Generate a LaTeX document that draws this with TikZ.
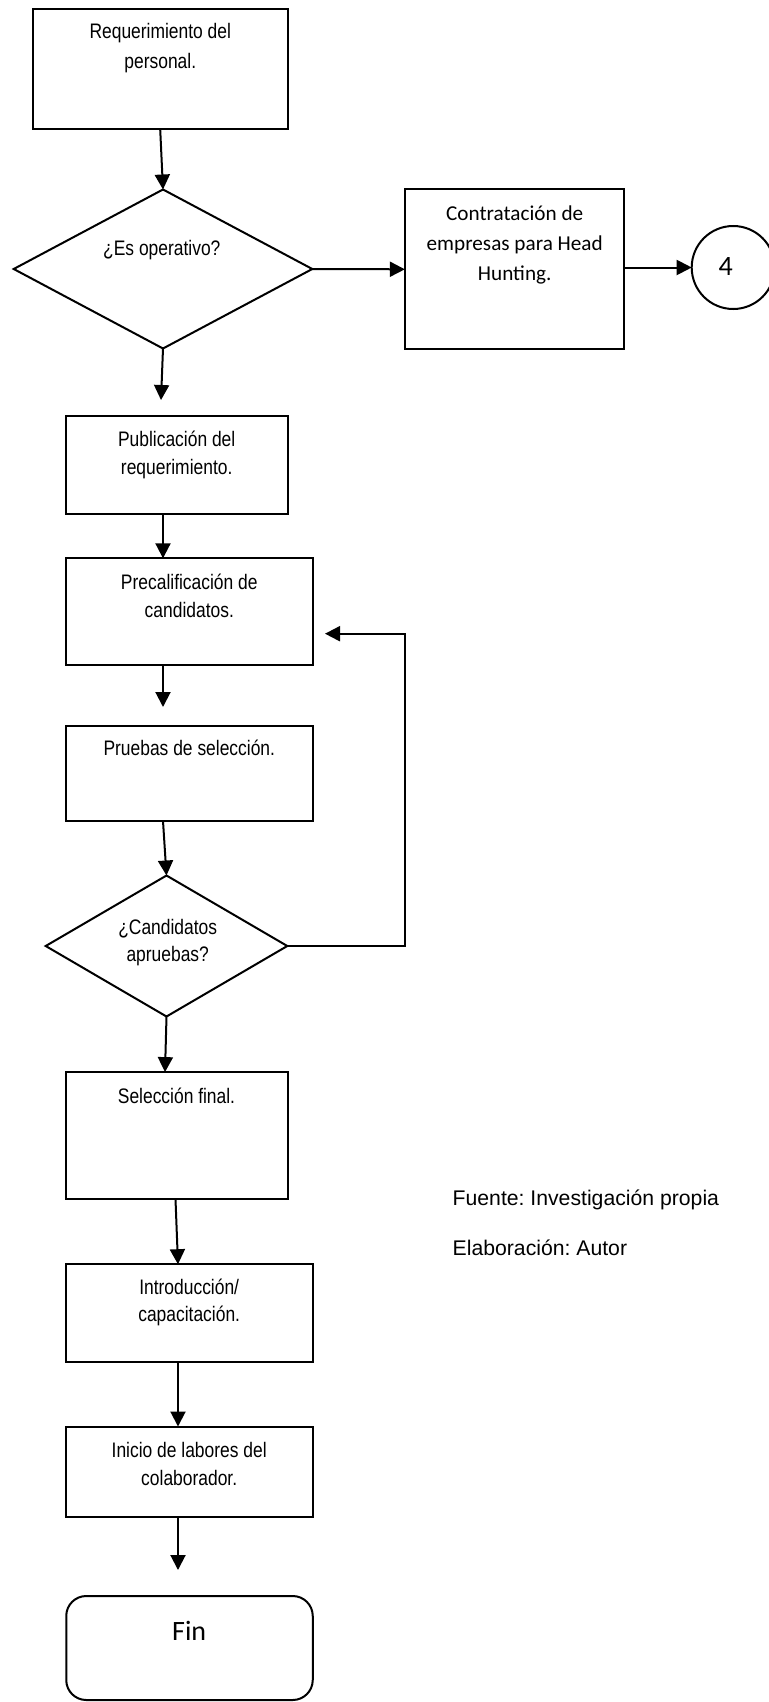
\documentclass[tikz,border=0pt]{standalone}
\usepackage{fontspec}
\setmainfont{Liberation Sans}
\newfontfamily\narrowfont[FakeStretch=0.83]{Liberation Sans}
\newfontfamily\califont{Carlito}
\usetikzlibrary{arrows.meta,shapes.geometric,calc}
\frenchspacing
\begin{document}
\begin{tikzpicture}[x=0.5pt,y=-0.5pt,line width=1pt,
  box/.style={draw,rectangle,inner sep=0pt,outer sep=0pt},
  dia/.style={draw,diamond,inner sep=0pt,outer sep=0pt},
  roundbox/.style={draw,rectangle,rounded corners=10pt,inner sep=0pt,outer sep=0pt},
  conn/.style={draw,circle,inner sep=0pt,outer sep=0pt},
  lbl/.style={font=\narrowfont\fontsize{10.5}{13.7}\selectfont,align=center,inner sep=0pt},
  lblwide/.style={font=\narrowfont\fontsize{10.5}{15}\selectfont,align=center,inner sep=0pt},
  cal/.style={font=\califont\fontsize{10.6}{15}\selectfont,align=center,inner sep=0pt},
  calbig/.style={font=\califont\fontsize{14}{16}\selectfont,inner sep=0pt},
  note/.style={font=\fontsize{10.6}{13}\selectfont,anchor=west,inner sep=0pt},
  arr/.style={-{Triangle[width=7.5pt,length=7.5pt]},line width=1pt}]
\fill[white] (0,0) rectangle (768,1702);
\useasboundingbox (0,0) rectangle (768,1702);

% shapes
\node[box,minimum width=127.5pt,minimum height=60pt] (b1) at (160.2,69.3) {};
\node[dia,minimum width=149.3pt,minimum height=79.5pt] (d1) at (163,269) {};
\node[box,minimum width=109.75pt,minimum height=80pt] (c1) at (514.6,269.3) {};
\node[conn,minimum size=41.5pt] (ci) at (733.2,267.5) {};
\node[box,minimum width=111pt,minimum height=49pt] (pub) at (176.8,465) {};
\node[box,minimum width=123.5pt,minimum height=53.5pt] (pre) at (189.2,611.8) {};
\node[box,minimum width=123.5pt,minimum height=47.5pt] (pru) at (189.2,773.5) {};
\node[dia,minimum width=120.8pt,minimum height=70.5pt] (d2) at (166.5,946) {};
\node[box,minimum width=110.75pt,minimum height=63.5pt] (sel) at (177,1135.6) {};
\node[box,minimum width=123.25pt,minimum height=49pt] (intro) at (189.5,1313.2) {};
\node[box,minimum width=123.25pt,minimum height=45pt] (ini) at (189.5,1471.5) {};
\node[roundbox,minimum width=123.25pt,minimum height=52pt] (fin) at (189.5,1648) {};

% texts
\node[lblwide] (t1) at (160.3,48.5) {Requerimiento del\\personal.};
\node[lbl] (t2) at (161.8,250) {¿Es operativo?};
\node[cal] (t3) at (514.7,244.5) {Contratación de\\empresas para Head\\Hunting.};
\node[calbig] (t4) at (725.7,266.7) {4};
\node[lbl] (t5) at (176.7,455) {Publicación del\\requerimiento.};
\node[lbl] (t6) at (189.3,596) {Precalificación de\\candidatos.};
\node[lbl] (t7) at (189.3,748.3) {Pruebas de selección.};
\node[lbl] (t8) at (167.7,942.8) {¿Candidatos\\apruebas?};
\node[lbl] (t9) at (176.5,1096.1) {Selección final.};
\node[lbl] (t10) at (189.2,1302.6) {Introducción/\\capacitación.};
\node[lbl] (t11) at (189.2,1464) {Inicio de labores del\\colaborador.};
\node[calbig] (t12) at (189.2,1630.9) {Fin};
\node[note] (f1) at (451.7,1200) {Fuente: Investigación propia};
\node[note] (f2) at (451.7,1248) {Elaboración: Autor};

% free ends
\coordinate (e1) at (161,400);
\coordinate (e2) at (163,707);
\coordinate (e3) at (325,633.7);
\coordinate (e4) at (178,1570);

% connectors
\draw[arr] (b1.south) -- (d1.north);
\draw[arr] (d1.east) -- (c1.west);
\draw[arr] (ci.west -| c1.east) -- (ci.west);
\draw[arr] (d1.south) -- (e1);
\draw[arr] (pub.south -| 163,0) -- (pre.north -| 163,0);
\draw[arr] (pre.south -| 163,0) -- (e2);
\draw[arr] (pru.south -| 163,0) -- (d2.north);
\draw[arr] (d2.east) -| ($(e3)+(80,0)$) -- (e3);
\draw[arr] (d2.south) -- (sel.north -| 165,0);
\draw[arr] (sel.south -| 175.5,0) -- (intro.north -| 178,0);
\draw[arr] (intro.south -| 178,0) -- (ini.north -| 178,0);
\draw[arr] (ini.south -| 178,0) -- (e4);
\end{tikzpicture}
\end{document}
